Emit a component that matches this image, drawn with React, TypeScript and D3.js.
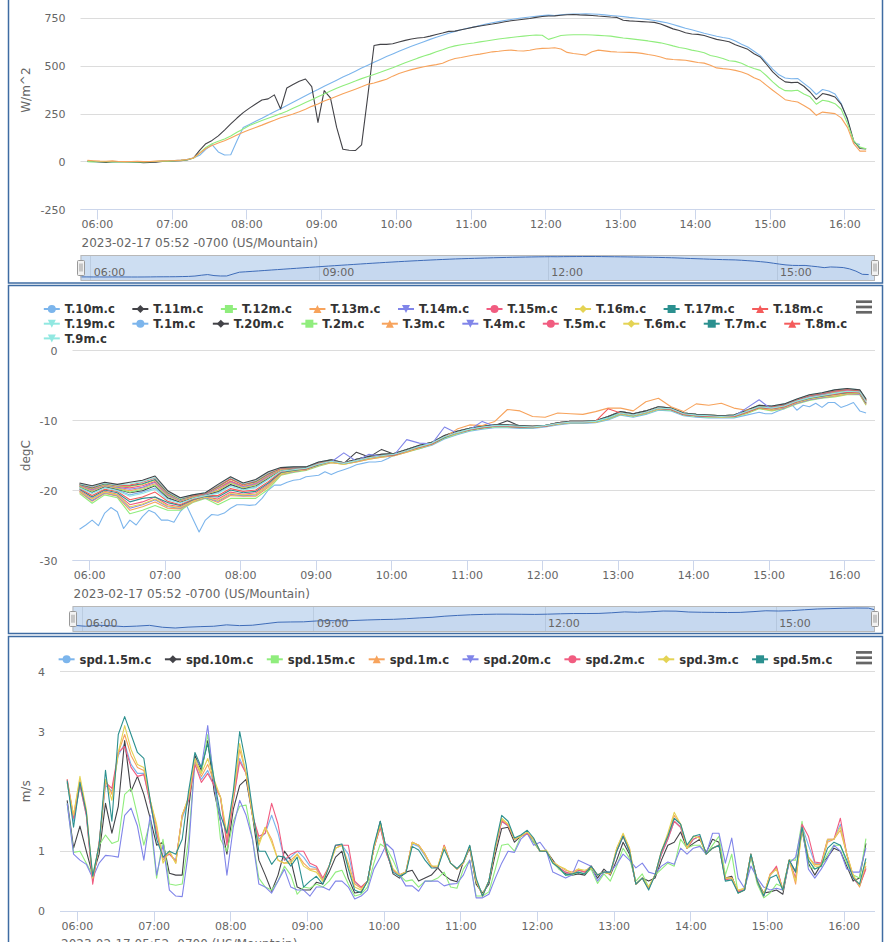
import React, { useMemo } from 'react';
import * as d3 from 'd3';

const FONT = '"DejaVu Sans", Verdana, sans-serif';
const PALETTE = ['#7cb5ec', '#434348', '#90ed7d', '#f7a35c', '#8085e9', '#f15c80', '#e4d354', '#2b908f', '#f45b5b', '#91e8e1'];
const SYMBOLS = ['circle', 'diamond', 'square', 'triangle', 'triangle-down'];
const DATE_LABEL = '2023-02-17 05:52 -0700 (US/Mountain)';

const at = (hm: string) => {
  const [h, m] = hm.split(':').map(Number);
  return new Date(2023, 1, 17, h, m, 0);
};
const VIEW_START = new Date(2023, 1, 17, 5, 46, 24);
const VIEW_END = new Date(2023, 1, 17, 16, 24, 6);
const DATA_START = at('05:52');
const DATA_END = at('16:17');

const times5 = d3.range(126).map((k) => d3.timeMinute.offset(DATA_START, 5 * k));
const times10 = [...d3.range(63).map((k) => d3.timeMinute.offset(DATA_START, 10 * k)), DATA_END];

// ---------------- Panel 1: radiation (W/m^2), 5-minute values ----------------
const radNames = ['rad.a', 'rad.b', 'rad.c', 'rad.d'];
const radBlue = [
  2, 1, 0, 0, -2, 1, 0, -1, -2, -2, -1, 1,
  5, 6, 7, 9, 14, 20, 34, 65, 90, 52, 36, 37,
  110, 180, 195, 212, 228, 245, 262, 278, 295, 312, 328, 345,
  362, 378, 395, 411, 427, 443, 458, 474, 490, 505, 520, 535,
  550, 564, 578, 591, 604, 616, 628, 640, 651, 662, 672, 682,
  690, 698, 705, 712, 720, 727, 733, 739, 744, 749, 753, 757,
  761, 764, 767, 765, 769, 771, 772, 773, 774, 773, 771, 768,
  765, 762, 759, 755, 752, 748, 744, 739, 733, 727, 718, 708,
  698, 690, 681, 672, 664, 656, 650, 645, 632, 615, 600, 578,
  555, 520, 485, 455, 438, 434, 436, 410, 385, 352, 378, 370,
  355, 305, 220, 100, 90, null,
];
const radDark = [
  4, 2, 0, -3, 1, 2, 1, -1, -2, -4, -3, -2,
  2, 3, 5, 6, 10, 20, 60, 95, 112, 136, 166, 198,
  229, 257, 281, 302, 323, 329, 350, 276, 386, 404, 421, 433,
  393, 206, 372, 334, 180, 66, 61, 59, 89, 345, 608, 614,
  614, 617, 626, 635, 642, 647, 650, 657, 666, 673, 682, 683,
  690, 697, 704, 710, 715, 720, 726, 732, 737, 741, 745, 749,
  755, 760, 762, 763, 766, 769, 770, 768, 767, 765, 762, 760,
  757, 755, 740, 737, 735, 733, 731, 729, 720, 708, 695, 686,
  675, 668, 666, 660, 650, 640, 634, 628, 612, 600, 588, 565,
  548, 510, 470, 440, 418, 414, 416, 395, 365, 327, 357, 350,
  339, 300, 225, 110, 70, 68,
];
const radGreen = [
  1, 0, 2, 1, 0, -1, 1, 0, -1, 0, 1, 2,
  3, 4, 6, 8, 11, 19, 45, 75, 95, 108, 120, 135,
  155, 172, 190, 203, 216, 228, 240, 252, 265, 280, 295, 310,
  325, 340, 355, 370, 385, 398, 410, 422, 435, 446, 457, 468,
  480, 492, 505, 518, 530, 542, 553, 563, 575, 586, 598, 606,
  612, 617, 621, 627, 632, 637, 642, 646, 650, 654, 657, 660,
  663, 662, 640, 650, 660, 663, 664, 664, 664, 663, 661, 659,
  657, 652, 647, 644, 640, 636, 632, 627, 622, 615, 606, 598,
  592, 584, 578, 570, 556, 549, 540, 528, 525, 515, 500, 488,
  478, 450, 418, 390, 372, 371, 374, 355, 340, 301, 322, 316,
  304, 275, 200, 110, 77, 68,
];
const radOrange = [
  8, 6, 4, 3, 5, 2, 1, 2, 3, 1, 2, 4,
  5, 6, 7, 9, 12, 20, 45, 70, 85, 98, 110, 125,
  140, 155, 168, 180, 192, 205, 217, 230, 240, 250, 262, 275,
  290, 302, 318, 330, 343, 356, 368, 380, 392, 405, 412, 422,
  432, 448, 462, 472, 482, 490, 497, 503, 508, 515, 530, 540,
  545, 552, 558, 563, 569, 575, 578, 582, 584, 581, 579, 583,
  590, 593, 594, 596, 590, 572, 566, 562, 558, 575, 584, 580,
  576, 574, 573, 572, 571, 567, 561, 556, 548, 538, 535, 533,
  531, 525, 519, 516, 505, 491, 487, 484, 478, 470, 458, 440,
  426, 400, 374, 350, 325, 318, 313, 295, 275, 243, 260, 256,
  252, 230, 180, 95, 56, 56,
];
const radTicks = [-250, 0, 250, 500, 750];

// ---------------- Panel 2: temperatures (degC), 10-minute values ----------------
const tempNames = ['T.10m.c', 'T.11m.c', 'T.12m.c', 'T.13m.c', 'T.14m.c', 'T.15m.c', 'T.16m.c', 'T.17m.c', 'T.18m.c', 'T.19m.c',
  'T.1m.c', 'T.20m.c', 'T.2m.c', 'T.3m.c', 'T.4m.c', 'T.5m.c', 'T.6m.c', 'T.7m.c', 'T.8m.c', 'T.9m.c'];

const t1Times = ['05:52', '05:57', '06:02', '06:07', '06:12', '06:17', '06:22', '06:27', '06:32', '06:37', '06:42', '06:47',
  '06:52', '06:57', '07:02', '07:07', '07:12', '07:17', '07:22', '07:27', '07:32', '07:37', '07:42', '07:47',
  '07:52', '07:57', '08:02', '08:07', '08:12', '08:17', '08:22', '08:27', '08:32', '08:37', '08:42', '08:47',
  '08:52', '08:57', '09:02', '09:07', '09:12', '09:17', '09:22', '09:27', '09:32', '09:37', '09:42', '09:47',
  '09:52', '09:57', '10:02', '10:07', '10:12', '10:22', '10:32', '10:42', '10:52', '11:02', '11:12', '11:22',
  '11:32', '11:42', '11:52', '12:02', '12:12', '12:22', '12:32', '12:42', '12:52', '13:02', '13:12', '13:22',
  '13:32', '13:42', '13:52', '14:02', '14:12', '14:22', '14:32', '14:42', '14:52', '14:57', '15:02', '15:07',
  '15:12', '15:17', '15:22', '15:27', '15:32', '15:37', '15:42', '15:47', '15:52', '15:57', '16:02', '16:07',
  '16:12', '16:17'];
const t1Values = [-25.5, -24.9, -24.2, -25.0, -23.2, -22.4, -23.0, -25.4, -24.2, -24.9, -23.7, -22.8,
  -23.2, -24.2, -24.2, -24.5, -23.0, -22.1, -24.0, -25.9, -24.2, -23.4, -23.5, -23.2,
  -22.5, -22.0, -22.0, -22.1, -22.0, -21.1, -19.9, -19.2, -19.2, -18.8, -18.5, -18.4,
  -18.0, -17.9, -17.8, -17.3, -17.7, -17.3, -17.0, -16.7, -16.3, -16.1, -15.9, -15.9,
  -15.8, -15.4, -14.9, -14.6, -14.4, -14.0, -13.5, -12.6, -12.0, -11.5, -11.2, -11.0,
  -11.0, -11.1, -11.1, -10.9, -10.6, -10.4, -10.4, -10.3, -9.9, -9.2, -9.5, -9.1,
  -8.5, -8.6, -9.3, -9.5, -9.6, -9.6, -9.6, -9.2, -8.8, -9.0, -9.0, -8.6,
  -8.3, -7.5, -8.5, -7.8, -8.0, -7.5, -8.1, -7.4, -7.4, -8.1, -7.8, -7.4,
  -8.6, -8.9];

const t2 = [-20.4, -21.8, -20.6, -21.0, -23.3, -22.8, -22.1, -22.8, -22.8, -21.7, -21.1, -22.0, -21.1, -21.1, -21.1, -19.8,
  -17.8, -17.4, -17.1, -16.5, -16.0, -16.2, -15.9, -15.5, -15.2, -15.0, -14.5, -14.0, -13.4, -12.5, -11.9, -11.4,
  -11.1, -10.9, -10.9, -11.0, -11.0, -10.8, -10.5, -10.3, -10.3, -10.2, -9.8, -9.1, -9.4, -9.0, -8.4, -8.5,
  -9.2, -9.4, -9.5, -9.5, -9.5, -9.0, -8.3, -8.6, -8.3, -7.6, -7.1, -6.8, -6.6, -6.3, -6.3, -7.8];
const t3 = [-20.2, -21.5, -20.4, -20.8, -22.8, -22.3, -21.6, -22.5, -22.6, -21.6, -21.0, -21.7, -20.7, -20.8, -20.8, -19.5,
  -17.7, -17.3, -17.0, -16.4, -16.0, -16.2, -15.9, -15.5, -15.2, -15.0, -14.5, -13.9, -13.4, -12.4, -11.2, -10.6,
  -10.7, -10.1, -8.4, -8.6, -9.4, -9.5, -8.9, -9.0, -9.1, -8.7, -8.2, -8.2, -8.6, -7.3, -6.8, -8.0,
  -8.7, -7.6, -7.8, -7.5, -8.2, -8.5, -8.2, -8.5, -8.2, -7.5, -7.0, -6.7, -6.5, -6.2, -6.2, -7.7];
const t4 = [-20.1, -21.4, -20.3, -20.7, -22.5, -22.0, -21.3, -22.3, -22.5, -21.5, -21.0, -21.5, -20.5, -20.7, -20.6, -19.3,
  -17.6, -17.3, -17.0, -16.4, -15.9, -14.6, -15.8, -14.8, -15.1, -14.9, -12.7, -13.2, -13.3, -10.9, -11.8, -11.3,
  -10.1, -10.8, -10.8, -10.9, -11.0, -10.8, -10.5, -10.3, -10.3, -10.2, -9.7, -9.0, -9.3, -8.9, -8.3, -8.4,
  -9.1, -9.3, -9.4, -9.5, -9.4, -8.2, -7.0, -8.4, -8.2, -7.5, -7.0, -6.7, -6.4, -6.1, -6.2, -7.6];
const t5 = [-20.0, -21.1, -20.1, -20.5, -22.0, -21.6, -20.9, -22.0, -22.3, -21.4, -20.9, -21.2, -20.2, -20.5, -20.3, -19.1,
  -17.5, -17.2, -17.0, -16.3, -15.9, -16.1, -15.8, -15.4, -15.1, -14.9, -14.4, -13.9, -13.3, -12.4, -11.8, -11.3,
  -11.0, -10.8, -10.8, -10.9, -10.9, -10.8, -10.4, -10.2, -10.2, -10.1, -9.7, -9.0, -9.3, -8.9, -8.3, -8.4,
  -9.1, -9.3, -9.4, -9.4, -9.4, -8.9, -8.2, -8.4, -8.1, -7.4, -6.9, -6.6, -6.3, -6.0, -6.1, -7.5];
const t6 = [-20.1, -21.2, -20.2, -20.6, -22.3, -21.9, -21.2, -22.2, -22.4, -21.5, -20.9, -21.4, -20.4, -20.6, -20.5, -19.3,
  -17.6, -17.2, -17.0, -16.4, -15.9, -16.2, -15.8, -15.4, -15.1, -14.9, -14.4, -13.9, -13.3, -12.4, -11.8, -11.3,
  -11.0, -10.8, -10.8, -10.9, -11.0, -10.8, -10.5, -10.3, -10.3, -10.2, -9.7, -9.0, -9.3, -8.9, -8.3, -8.4,
  -9.1, -9.3, -9.4, -9.5, -9.4, -8.9, -8.2, -8.4, -8.1, -7.4, -6.9, -6.6, -6.4, -6.1, -6.1, -7.6];
const t7 = [-19.8, -20.9, -19.9, -20.3, -21.6, -21.1, -20.9, -21.7, -22.1, -21.3, -20.8, -20.9, -19.9, -20.3, -20.1, -18.9,
  -17.4, -17.1, -16.9, -16.3, -15.8, -16.1, -15.7, -15.3, -15.0, -14.9, -14.3, -13.8, -13.3, -12.4, -11.7, -11.3,
  -11.0, -10.8, -10.8, -10.9, -10.9, -10.8, -10.4, -10.2, -10.2, -10.1, -9.6, -8.9, -9.2, -8.8, -8.2, -8.4,
  -9.1, -9.3, -9.4, -9.4, -9.4, -8.8, -8.1, -8.3, -8.0, -7.3, -6.8, -6.5, -6.2, -6.0, -6.0, -7.5];
const t8 = [-19.7, -20.7, -19.8, -20.1, -21.3, -20.9, -20.2, -21.5, -22.0, -21.2, -20.7, -20.7, -19.7, -20.1, -19.9, -18.7,
  -17.3, -17.0, -16.9, -16.2, -15.8, -16.1, -15.7, -15.3, -15.0, -14.9, -14.3, -13.8, -13.3, -12.3, -11.7, -11.3,
  -11.0, -10.8, -10.8, -10.9, -10.9, -10.8, -10.4, -10.2, -10.2, -10.1, -8.3, -8.9, -9.2, -8.8, -8.2, -8.4,
  -9.1, -9.3, -9.4, -9.4, -9.4, -8.8, -8.1, -8.3, -8.0, -7.3, -6.7, -6.4, -6.2, -5.9, -6.0, -7.4];
const t9 = [-19.6, -20.4, -19.6, -20.0, -20.8, -20.4, -19.8, -21.3, -21.8, -21.1, -20.7, -20.4, -19.4, -19.9, -19.6, -18.4,
  -17.2, -17.0, -16.8, -16.2, -15.8, -16.1, -15.7, -15.3, -15.0, -14.8, -14.3, -13.7, -13.2, -12.3, -11.7, -11.2,
  -10.9, -10.7, -10.7, -10.8, -10.9, -10.7, -10.4, -10.2, -10.2, -10.1, -9.6, -8.9, -9.2, -8.8, -8.2, -8.3,
  -9.0, -9.2, -9.3, -9.4, -9.3, -8.7, -8.0, -8.2, -7.9, -7.2, -6.7, -6.4, -6.1, -5.8, -5.9, -7.3];
const t10 = [-19.5, -20.3, -19.5, -19.9, -20.6, -20.2, -19.6, -21.1, -21.7, -21.0, -20.6, -20.3, -19.2, -19.8, -19.5, -18.3,
  -17.1, -16.9, -16.8, -16.1, -15.8, -16.1, -15.7, -15.3, -15.0, -14.8, -14.3, -13.7, -13.2, -12.3, -11.7, -11.2,
  -10.9, -10.7, -10.7, -10.8, -10.9, -10.7, -10.4, -10.2, -10.2, -10.1, -9.6, -8.9, -9.2, -8.8, -8.2, -8.3,
  -9.0, -9.2, -9.3, -9.4, -9.3, -8.7, -8.0, -8.2, -7.9, -7.2, -6.6, -6.3, -6.0, -5.8, -5.9, -7.3];
const t11 = [-19.4, -20.2, -19.4, -19.8, -20.3, -20.0, -19.3, -21.0, -21.6, -21.0, -20.6, -20.1, -19.1, -19.7, -19.3, -18.2,
  -17.1, -16.9, -16.8, -16.1, -15.7, -16.1, -14.5, -15.2, -14.1, -14.8, -14.2, -13.7, -13.2, -12.2, -11.6, -11.2,
  -10.9, -10.7, -10.0, -10.8, -10.9, -10.7, -10.4, -10.2, -10.2, -10.1, -9.5, -8.8, -9.1, -8.7, -8.1, -8.3,
  -9.0, -9.2, -9.3, -9.4, -9.3, -8.7, -8.0, -8.1, -7.8, -7.1, -6.6, -6.3, -5.9, -5.7, -5.8, -7.2];
const t12 = [-19.4, -20.1, -19.3, -19.7, -20.2, -19.8, -19.2, -20.8, -21.5, -20.9, -20.5, -20.0, -18.9, -19.6, -19.2, -18.1,
  -17.0, -16.8, -16.8, -16.1, -15.7, -16.1, -15.6, -15.2, -14.9, -14.8, -14.2, -13.7, -13.2, -12.2, -11.6, -11.2,
  -10.9, -10.7, -10.7, -10.8, -10.9, -10.7, -10.4, -10.2, -10.2, -10.1, -9.5, -8.8, -9.1, -8.7, -8.1, -8.3,
  -9.0, -9.2, -9.3, -9.4, -9.3, -8.7, -8.0, -8.1, -7.8, -7.1, -6.5, -6.2, -5.9, -5.7, -5.8, -7.2];
const t13 = [-19.3, -20.0, -19.3, -19.6, -20.0, -19.6, -19.0, -20.7, -21.5, -20.9, -20.5, -19.9, -18.8, -19.5, -19.1, -18.0,
  -17.0, -16.8, -16.7, -16.1, -15.7, -16.1, -15.6, -15.2, -14.9, -14.8, -14.2, -13.6, -13.2, -12.2, -11.6, -11.2,
  -10.9, -10.7, -10.7, -10.8, -10.9, -10.7, -10.4, -10.2, -10.2, -10.1, -9.5, -8.8, -9.1, -8.7, -8.1, -8.3,
  -9.0, -9.2, -9.3, -9.4, -9.3, -8.6, -7.9, -8.1, -7.8, -7.1, -6.5, -6.2, -5.9, -5.6, -5.8, -7.1];
const t14 = [-19.2, -19.9, -19.2, -19.5, -19.8, -19.5, -18.8, -20.6, -21.4, -20.8, -20.5, -19.7, -18.7, -19.4, -19.0, -17.9,
  -16.9, -16.8, -16.7, -16.0, -15.7, -16.0, -15.6, -15.2, -14.9, -14.8, -14.2, -13.6, -13.2, -12.2, -11.6, -11.2,
  -10.9, -10.7, -10.7, -10.8, -10.8, -10.7, -10.3, -10.1, -10.1, -10.0, -9.5, -8.8, -9.1, -8.7, -8.1, -8.3,
  -9.0, -9.2, -9.3, -9.3, -9.3, -8.6, -7.9, -8.1, -7.8, -7.1, -6.5, -6.2, -5.8, -5.6, -5.8, -7.1];
const t15 = [-19.2, -19.8, -19.1, -19.4, -19.6, -19.3, -18.7, -20.5, -21.3, -20.8, -20.4, -19.6, -18.6, -19.3, -18.9, -17.8,
  -16.9, -16.7, -16.7, -16.0, -15.7, -16.0, -15.6, -15.2, -14.9, -14.8, -14.2, -13.6, -13.2, -12.2, -11.6, -11.2,
  -10.9, -10.7, -10.7, -10.8, -10.8, -10.7, -10.3, -10.1, -10.1, -10.0, -9.5, -8.8, -9.1, -8.7, -8.1, -8.3,
  -9.0, -9.2, -9.3, -9.3, -9.3, -8.6, -7.9, -8.0, -7.7, -7.0, -6.4, -6.1, -5.8, -5.6, -5.7, -7.1];
const t16 = [-19.1, -19.7, -19.1, -19.4, -19.4, -19.1, -18.5, -20.4, -21.3, -20.8, -20.4, -19.5, -18.4, -19.2, -18.8, -17.7,
  -16.9, -16.7, -16.7, -16.0, -15.7, -16.0, -15.6, -15.2, -14.9, -14.7, -14.2, -13.6, -13.1, -12.2, -11.6, -11.2,
  -10.9, -10.7, -10.7, -10.8, -10.8, -10.7, -10.3, -10.1, -10.1, -10.0, -9.5, -8.8, -9.1, -8.7, -8.1, -8.2,
  -8.9, -9.1, -9.2, -9.3, -9.2, -8.6, -7.9, -8.0, -7.7, -7.0, -6.4, -6.1, -5.7, -5.5, -5.7, -7.0];
const t17 = [-19.1, -19.6, -19.0, -19.3, -19.3, -19.0, -18.4, -20.3, -21.2, -20.7, -20.4, -19.4, -18.3, -19.1, -18.7, -17.6,
  -16.8, -16.7, -16.7, -16.0, -15.6, -16.0, -15.5, -15.1, -14.8, -14.7, -14.1, -13.6, -13.1, -12.1, -11.5, -11.1,
  -10.8, -10.6, -10.6, -10.7, -10.8, -10.7, -10.3, -10.1, -10.1, -10.0, -9.4, -8.7, -9.0, -8.6, -8.0, -8.2,
  -8.9, -9.1, -9.2, -9.3, -9.2, -8.6, -7.9, -8.0, -7.7, -7.0, -6.4, -6.1, -5.7, -5.5, -5.7, -7.0];
const t18 = [-19.0, -19.5, -18.9, -19.3, -19.2, -18.8, -18.2, -20.2, -21.1, -20.7, -20.4, -19.3, -18.3, -19.1, -18.6, -17.5,
  -16.8, -16.7, -16.6, -16.0, -15.6, -16.0, -15.5, -15.1, -14.8, -14.7, -14.1, -13.5, -13.1, -12.1, -11.5, -11.1,
  -10.8, -10.6, -10.6, -10.7, -10.8, -10.7, -10.3, -10.1, -10.1, -10.0, -9.4, -8.7, -9.0, -8.6, -8.0, -8.2,
  -8.9, -9.1, -9.2, -9.3, -9.2, -8.5, -7.8, -8.0, -7.7, -7.0, -6.4, -6.1, -5.7, -5.5, -5.7, -7.0];
const t19 = [-19.0, -19.4, -18.9, -19.2, -19.0, -18.7, -18.1, -20.1, -21.1, -20.6, -20.3, -19.2, -18.1, -19.0, -18.5, -17.4,
  -16.7, -16.6, -16.6, -15.9, -15.6, -16.0, -15.5, -15.1, -14.8, -14.7, -14.1, -13.5, -13.1, -12.1, -11.5, -11.1,
  -10.8, -10.6, -10.6, -10.7, -10.8, -10.7, -10.3, -10.1, -10.1, -10.0, -9.4, -8.7, -9.0, -8.6, -8.0, -8.2,
  -8.9, -9.1, -9.2, -9.3, -9.2, -8.5, -7.8, -7.9, -7.6, -6.9, -6.3, -6.0, -5.6, -5.4, -5.6, -6.9];
const t20 = [-18.9, -19.3, -18.8, -19.1, -18.8, -18.5, -17.9, -20.0, -21.0, -20.6, -20.3, -19.1, -18.0, -18.9, -18.4, -17.3,
  -16.7, -16.6, -16.6, -15.9, -15.6, -16.0, -15.5, -15.1, -14.8, -14.7, -14.1, -13.5, -13.1, -12.1, -11.5, -11.1,
  -10.8, -10.6, -10.6, -10.7, -10.8, -10.7, -10.3, -10.1, -10.1, -10.0, -9.4, -8.7, -9.0, -8.6, -8.0, -8.2,
  -8.9, -9.1, -9.2, -9.3, -9.2, -8.5, -7.8, -7.9, -7.6, -6.9, -6.3, -6.0, -5.6, -5.4, -5.6, -6.9];
const tempTicks = [-30, -20, -10, 0];

// ---------------- Panel 3: wind speed (m/s), 5-minute values ----------------
const windNames = ['spd.1.5m.c', 'spd.10m.c', 'spd.15m.c', 'spd.1m.c', 'spd.20m.c', 'spd.2m.c', 'spd.3m.c', 'spd.5m.c'];
const spd1p5 = [
  2.15, 1.5, 2.1, 1.6, 0.5, 1.1, 2.1, 2.0, 2.6, 2.8, 2.45, 2.3,
  2.3, 1.8, 1.3, 0.9, 0.95, 0.85, 1.55, 1.85, 2.45, 2.2, 2.35, 2.1,
  1.9, 1.15, 1.85, 2.55, 2.3, 1.6, 1.2, 1.3, 1.6, 1.3, 0.85, 0.9,
  1.0, 0.9, 0.75, 0.72, 0.52, 0.75, 1.1, 1.1, 0.95, 0.48, 0.4, 0.5,
  1.05, 1.4, 0.95, 0.68, 0.6, 0.65, 1.12, 1.08, 0.92, 0.75, 0.72, 1.08,
  0.8, 0.7, 0.8, 1.08, 0.52, 0.26, 0.5, 1.05, 1.5, 1.42, 1.2, 1.25,
  1.3, 1.2, 1.0, 1.0, 0.82, 0.72, 0.65, 0.62, 0.68, 0.65, 0.75, 0.6,
  0.65, 0.62, 1.0, 1.25, 1.0, 0.45, 0.55, 0.38, 0.6, 0.95, 1.2, 1.5,
  1.4, 1.05, 1.2, 1.25, 0.95, 1.05, 1.1, 0.52, 0.55, 0.32, 0.36, 0.95,
  0.5, 0.25, 0.6, 0.72, 0.35, 0.85, 0.52, 1.42, 1.1, 0.8, 0.78, 1.18,
  1.2, 1.45, 0.95, 0.55, 0.42, 0.72,
];
const spd10 = [
  1.85, 1.05, 1.42, 1.0, 0.6, 0.95, 1.8, 1.3, 1.75, 2.85, 2.0, 2.25,
  1.95, 1.55, 1.1, 1.15, 0.63, 0.6, 0.6, 1.7, 2.6, 2.35, 2.85, 2.0,
  1.5, 0.95, 1.7, 2.1, 2.2, 1.6, 0.85, 0.6, 0.33, 0.6, 1.0, 0.85,
  0.4, 0.35, 0.35, 0.48, 0.45, 0.65, 0.9, 1.0, 0.55, 0.3, 0.32, 0.5,
  1.05, 1.5, 1.0, 0.62, 0.55, 0.65, 0.68, 0.5, 0.55, 0.6, 0.72, 0.6,
  0.52, 0.49, 0.82, 1.05, 0.45, 0.3, 0.45, 0.95, 1.38, 1.4, 1.15, 1.25,
  1.3, 1.15, 1.0, 1.0, 0.85, 0.7, 0.62, 0.6, 0.62, 0.6, 0.72, 0.55,
  0.7, 0.6, 0.85, 1.15, 0.95, 0.45, 0.55, 0.5, 0.55, 0.85, 1.1, 1.15,
  1.32, 1.05, 1.13, 1.2, 0.98, 1.2, 1.15, 0.55, 0.58, 0.3, 0.35, 0.93,
  0.5, 0.3, 0.32, 0.35, 0.28, 0.85, 0.65, 1.35, 0.8, 0.6, 0.78, 0.9,
  1.05, 1.0, 0.75, 0.5, 0.55, 1.13,
];
const spd15 = [
  1.8, 0.98, 1.0, 0.8, 0.6, 1.1, 1.27, 1.13, 1.17, 1.95, 2.05, 1.6,
  1.1, 1.5, 0.55, 1.2, 0.45, 0.43, 0.45, 1.2, 2.5, 2.3, 2.95, 2.2,
  1.2, 1.0, 1.5, 1.75, 1.77, 1.2, 0.55, 0.4, 0.35, 0.5, 0.75, 0.6,
  0.28, 0.4, 0.38, 0.45, 0.4, 0.5, 0.65, 0.68, 0.45, 0.25, 0.28, 0.4,
  0.8, 1.12, 1.05, 0.85, 0.6, 0.5, 0.52, 0.4, 0.5, 0.5, 0.55, 0.65,
  0.4, 0.38, 0.7, 0.85, 0.25, 0.25, 0.32, 0.7, 1.1, 1.12, 1.0, 1.25,
  1.3, 1.15, 1.0, 1.0, 0.8, 0.7, 0.6, 0.6, 0.65, 0.62, 0.7, 0.46,
  0.62, 0.5, 0.75, 1.05, 0.88, 0.5, 0.62, 0.4, 0.6, 0.7, 0.8, 0.75,
  1.2, 1.05, 1.1, 1.1, 0.95, 1.1, 1.25, 0.6, 0.95, 0.3, 0.35, 0.9,
  0.45, 0.22, 0.3, 0.45, 0.4, 0.85, 0.85, 1.5, 0.75, 0.7, 0.75, 0.95,
  1.1, 1.1, 0.8, 0.6, 0.55, 1.21,
];
const spd1 = [
  2.2, 1.6, 2.2, 1.65, 0.5, 1.1, 2.2, 1.95, 2.65, 2.95, 2.6, 2.4,
  2.35, 1.85, 1.4, 0.85, 1.0, 0.8, 1.6, 1.9, 2.5, 2.25, 2.45, 2.15,
  1.9, 1.2, 1.9, 2.7, 2.3, 1.6, 1.15, 1.4, 1.2, 0.85, 0.8, 0.85,
  0.95, 0.8, 0.7, 0.7, 0.5, 0.75, 1.05, 1.1, 0.8, 0.45, 0.38, 0.5,
  1.05, 1.42, 0.98, 0.7, 0.6, 0.65, 1.15, 1.1, 0.95, 0.75, 0.72, 1.1,
  0.8, 0.7, 0.8, 1.08, 0.5, 0.26, 0.5, 1.05, 1.52, 1.45, 1.2, 1.25,
  1.3, 1.2, 1.0, 1.0, 0.82, 0.75, 0.68, 0.65, 0.7, 0.65, 0.75, 0.6,
  0.65, 0.62, 1.05, 1.28, 1.05, 0.45, 0.55, 0.38, 0.6, 1.0, 1.25, 1.6,
  1.45, 1.05, 1.25, 1.22, 0.95, 1.05, 1.1, 0.55, 0.55, 0.33, 0.38, 0.95,
  0.5, 0.27, 0.62, 0.72, 0.35, 0.85, 0.45, 1.4, 0.9, 0.78, 0.78, 1.15,
  1.2, 1.35, 0.95, 0.6, 0.4, 0.75,
];
const spd20 = [
  1.8, 0.95, 0.85, 0.78, 0.55, 0.8, 0.93, 0.92, 0.9, 1.6, 1.72, 1.42,
  0.85, 1.6, 0.6, 1.1, 0.35, 0.25, 0.24, 1.0, 2.55, 2.4, 3.1, 2.1,
  1.5, 0.6, 1.4, 1.85, 1.6, 1.2, 0.45, 0.4, 0.3, 0.5, 0.7, 0.4,
  0.35, 0.35, 0.25, 0.4, 0.4, 0.35, 0.5, 0.5, 0.4, 0.2, 0.25, 0.35,
  0.7, 0.9, 1.12, 1.02, 0.6, 0.42, 0.42, 0.33, 0.5, 0.5, 0.5, 0.42,
  0.45, 0.46, 0.6, 0.85, 0.22, 0.22, 0.28, 0.55, 0.8, 1.0, 0.98, 1.2,
  1.3, 1.1, 1.15, 1.0, 0.65, 0.6, 0.55, 0.6, 0.85, 0.8, 0.75, 0.5,
  0.65, 0.65, 0.78, 0.95, 0.85, 0.72, 0.8, 0.65, 0.62, 0.75, 0.82, 0.78,
  1.05, 0.95, 1.05, 1.08, 0.95, 1.3, 1.3, 0.8, 1.22, 0.55, 0.38, 0.75,
  0.55, 0.4, 0.35, 0.38, 0.35, 0.8, 0.9, 1.42, 0.7, 0.55, 0.7, 0.88,
  1.1, 1.0, 0.7, 0.65, 0.65, 1.05,
];
const spd2 = [
  2.2, 1.55, 2.1, 1.6, 0.45, 1.15, 2.15, 2.05, 2.65, 2.75, 2.4, 2.25,
  2.28, 1.8, 1.3, 0.9, 0.95, 0.83, 1.6, 1.85, 2.45, 2.15, 2.3, 2.1,
  1.9, 1.1, 1.85, 2.5, 2.3, 1.6, 1.25, 1.3, 1.8, 1.45, 0.85, 0.95,
  1.0, 1.0, 0.8, 0.75, 0.55, 0.75, 1.1, 1.1, 1.1, 0.5, 0.4, 0.5,
  1.05, 1.4, 0.95, 0.68, 0.6, 0.65, 1.15, 1.1, 0.95, 0.75, 0.72, 1.1,
  0.8, 0.7, 0.8, 1.08, 0.52, 0.25, 0.5, 1.05, 1.5, 1.43, 1.2, 1.25,
  1.3, 1.2, 1.0, 1.0, 0.82, 0.72, 0.65, 0.62, 0.68, 0.65, 0.75, 0.6,
  0.65, 0.62, 1.0, 1.25, 1.0, 0.45, 0.55, 0.38, 0.6, 0.95, 1.2, 1.5,
  1.4, 1.05, 1.2, 1.25, 0.95, 1.05, 1.1, 0.52, 0.55, 0.32, 0.35, 0.95,
  0.5, 0.25, 0.6, 0.75, 0.35, 0.85, 0.55, 1.45, 1.25, 0.82, 0.8, 1.2,
  1.2, 1.55, 0.95, 0.55, 0.42, 0.7,
];
const spd3 = [
  2.15, 1.6, 2.25, 1.7, 0.55, 1.1, 2.2, 1.85, 2.65, 3.1, 2.7, 2.45,
  2.4, 1.85, 1.45, 0.8, 1.0, 0.8, 1.6, 1.9, 2.55, 2.3, 2.55, 2.2,
  1.9, 1.3, 1.9, 2.8, 2.3, 1.6, 1.1, 1.4, 1.15, 0.85, 0.8, 0.8,
  0.95, 0.75, 0.68, 0.65, 0.5, 0.75, 1.05, 1.1, 0.75, 0.4, 0.35, 0.5,
  1.05, 1.45, 1.0, 0.7, 0.6, 0.65, 1.15, 1.1, 0.95, 0.75, 0.75, 1.08,
  0.8, 0.7, 0.8, 1.08, 0.5, 0.27, 0.5, 1.05, 1.55, 1.45, 1.2, 1.25,
  1.32, 1.2, 1.0, 1.02, 0.82, 0.75, 0.7, 0.62, 0.7, 0.68, 0.72, 0.6,
  0.65, 0.62, 1.05, 1.3, 1.05, 0.45, 0.55, 0.4, 0.6, 1.0, 1.3, 1.65,
  1.45, 1.05, 1.25, 1.22, 0.95, 1.05, 1.1, 0.55, 0.55, 0.35, 0.38, 0.95,
  0.5, 0.28, 0.6, 0.7, 0.35, 0.85, 0.5, 1.35, 0.9, 0.75, 0.75, 1.2,
  1.2, 1.4, 0.95, 0.6, 0.42, 0.82,
];
const spd5 = [
  2.18, 1.4, 2.15, 1.65, 0.58, 1.1, 2.35, 1.5, 2.95, 3.25, 2.95, 2.65,
  2.55, 1.85, 1.2, 0.9, 1.0, 0.95, 1.2, 2.0, 2.65, 2.4, 2.8, 2.2,
  1.6, 1.3, 2.0, 3.0, 2.45, 1.7, 1.0, 1.0, 0.78, 0.92, 0.9, 0.75,
  0.9, 0.4, 0.5, 0.58, 0.45, 0.75, 1.1, 1.12, 0.7, 0.35, 0.3, 0.5,
  1.1, 1.5, 1.0, 0.65, 0.58, 0.63, 1.08, 1.02, 0.85, 0.72, 0.72, 1.03,
  0.8, 0.71, 0.82, 1.1, 0.55, 0.25, 0.5, 1.1, 1.6, 1.5, 1.22, 1.27,
  1.35, 1.22, 1.0, 1.0, 0.8, 0.72, 0.6, 0.62, 0.65, 0.62, 0.75, 0.6,
  0.65, 0.65, 1.0, 1.25, 1.0, 0.45, 0.55, 0.35, 0.6, 1.0, 1.25, 1.55,
  1.45, 1.1, 1.25, 1.28, 0.95, 1.05, 1.1, 0.5, 0.52, 0.3, 0.35, 0.95,
  0.5, 0.25, 0.55, 0.6, 0.35, 0.85, 0.65, 1.4, 0.85, 0.7, 0.75, 1.05,
  1.15, 1.1, 0.85, 0.55, 0.45, 0.88,
];
const windTicks = [0, 1, 2, 3, 4];

// ---------------- helpers ----------------
type Pt = [Date, number | null];
type Series = { name: string; color: string; symbol: string; points: Pt[] };

const zip = (times: Date[], vals: (number | null)[]): Pt[] => vals.map((v, i) => [times[i], v]);

const radSeries: Series[] = [radBlue, radDark, radGreen, radOrange].map((vals, i) => ({
  name: radNames[i], color: PALETTE[i], symbol: SYMBOLS[i], points: zip(times5, vals),
}));

const tempArrays: Record<string, number[]> = {
  'T.2m.c': t2, 'T.3m.c': t3, 'T.4m.c': t4, 'T.5m.c': t5, 'T.6m.c': t6, 'T.7m.c': t7, 'T.8m.c': t8, 'T.9m.c': t9,
  'T.10m.c': t10, 'T.11m.c': t11, 'T.12m.c': t12, 'T.13m.c': t13, 'T.14m.c': t14, 'T.15m.c': t15, 'T.16m.c': t16,
  'T.17m.c': t17, 'T.18m.c': t18, 'T.19m.c': t19, 'T.20m.c': t20,
};
const tempSeries: Series[] = tempNames.map((name, i) => ({
  name, color: PALETTE[i % 10], symbol: SYMBOLS[i % 5],
  points: name === 'T.1m.c' ? t1Times.map((s, k) => [at(s), t1Values[k]] as Pt) : zip(times10, tempArrays[name]),
}));

const windArrays = [spd1p5, spd10, spd15, spd1, spd20, spd2, spd3, spd5];
const windSeries: Series[] = windNames.map((name, i) => ({
  name, color: PALETTE[i % 10], symbol: SYMBOLS[i % 5], points: zip(times5, windArrays[i]),
}));

const LEGEND_FONT_SIZE = 11.6;

function markerEl(symbol: string, cx: number, cy: number, color: string) {
  const r = 4;
  if (symbol === 'circle') return <circle cx={cx} cy={cy} r={r} fill={color} />;
  if (symbol === 'square') return <rect x={cx - r} y={cy - r} width={2 * r} height={2 * r} fill={color} />;
  let d = '';
  if (symbol === 'diamond') d = `M${cx},${cy - r}L${cx + r},${cy}L${cx},${cy + r}L${cx - r},${cy}Z`;
  if (symbol === 'triangle') d = `M${cx},${cy - r}L${cx + r},${cy + r}L${cx - r},${cy + r}Z`;
  if (symbol === 'triangle-down') d = `M${cx - r},${cy - r}L${cx + r},${cy - r}L${cx},${cy + r}Z`;
  return <path d={d} fill={color} />;
}

function layoutLegend(series: Series[], maxW: number, centerX: number, firstCy: number, rowH: number, dist: number) {
  const ctx = document.createElement('canvas').getContext('2d') as CanvasRenderingContext2D;
  ctx.font = `bold ${LEGEND_FONT_SIZE}px ${FONT}`;
  const widths = series.map((s) => 21 + ctx.measureText(s.name).width + dist);
  const rows: number[][] = [[]];
  let rowW = 0;
  widths.forEach((w, i) => {
    if (rowW + w > maxW && rows[rows.length - 1].length) {
      rows.push([]);
      rowW = 0;
    }
    rows[rows.length - 1].push(i);
    rowW += w;
  });
  const rowWidths = rows.map((r) => d3.sum(r, (i) => widths[i]) - dist);
  const legendW = d3.max(rowWidths) as number;
  const startX = centerX - legendW / 2;
  const items: { s: Series; x: number; cy: number }[] = [];
  rows.forEach((r, ri) => {
    let x = startX;
    r.forEach((i) => {
      items.push({ s: series[i], x, cy: firstCy + ri * rowH });
      x += widths[i];
    });
  });
  return items;
}

const crisp = (v: number) => Math.round(v - 0.5) + 0.5;

function Menu({ cy }: { cy: number }) {
  return (
    <g stroke="#666" strokeWidth={2.7}>
      {[-5.3, 0, 5.3].map((o) => <line key={o} x1={856} x2={872} y1={cy + o} y2={cy + o} />)}
    </g>
  );
}

function Navigator({ id, left, right, top, bottom, points }: { id: string; left: number; right: number; top: number; bottom: number; points: Pt[] }) {
  const xn = d3.scaleTime().domain([DATA_START, DATA_END]).range([left, right]);
  const vals = points.map((p) => p[1]).filter((v) => v != null) as number[];
  const yn = d3.scaleLinear().domain(d3.extent(vals) as [number, number]).range([bottom - 3, top + 1.5]);
  const area = d3.area<Pt>().defined((d) => d[1] != null).x((d) => xn(d[0])).y0(bottom).y1((d) => yn(d[1] as number));
  const line = d3.line<Pt>().defined((d) => d[1] != null).x((d) => xn(d[0])).y((d) => yn(d[1] as number));
  const ticks = xn.ticks(d3.timeHour.every(3) as d3.TimeInterval);
  const fmt = d3.timeFormat('%H:%M');
  const cy = (top + bottom) / 2;
  return (
    <g>
      <rect x={left} y={top} width={right - left} height={bottom - top} fill="#fff" />
      {ticks.map((t) => (
        <line key={+t} x1={crisp(xn(t))} x2={crisp(xn(t))} y1={top} y2={bottom} stroke="#e6e6e6" />
      ))}
      <path d={area(points) || ''} fill="rgba(51,92,173,0.05)" />
      <path d={line(points) || ''} fill="none" stroke="#335cad" strokeWidth={1} />
      <rect x={left} y={top} width={right - left} height={bottom - top} fill="rgba(88,145,212,0.3)" />
      {ticks.map((t) => (
        <text key={'l' + +t} x={xn(t) + 3} y={bottom - 4} fontSize={11} fill="#666">{fmt(t)}</text>
      ))}
      <rect x={left + 0.5} y={crisp(top)} width={right - left - 1} height={Math.round(bottom - top)} fill="none" stroke="#b8b8b8" strokeWidth={1} />
      {[left, right].map((hx) => {
        const cx = Math.round(hx);
        return (
          <g key={id + hx}>
            <rect x={cx - 3.5} y={Math.round(cy - 7.5) + 0.5} width={7} height={15} rx={1} fill="#f2f2f2" stroke="#999" />
            <line x1={cx - 1} x2={cx - 1} y1={cy - 4} y2={cy + 4} stroke="#999" />
            <line x1={cx + 1} x2={cx + 1} y1={cy - 4} y2={cy + 4} stroke="#999" />
          </g>
        );
      })}
    </g>
  );
}

type PanelProps = {
  id: string; left: number; right: number; top: number; bottom: number;
  yDomain: [number, number]; yTicks: number[]; yTitle: string; series: Series[];
};

function Plot({ id, left, right, top, bottom, yDomain, yTicks, yTitle, series }: PanelProps) {
  const x = d3.scaleTime().domain([VIEW_START, VIEW_END]).range([left, right]);
  const y = d3.scaleLinear().domain(yDomain).range([bottom, top]);
  const line = d3.line<Pt>().defined((d) => d[1] != null).x((d) => x(d[0])).y((d) => y(d[1] as number));
  const xt = x.ticks(d3.timeHour.every(1) as d3.TimeInterval);
  const fmt = d3.timeFormat('%H:%M');
  const axisY = crisp(bottom);
  return (
    <g>
      <defs>
        <clipPath id={'clip-' + id}>
          <rect x={left} y={top - 2} width={right - left} height={bottom - top + 4} />
        </clipPath>
      </defs>
      {yTicks.map((v) => (
        <g key={v}>
          <line x1={left} x2={right} y1={crisp(y(v))} y2={crisp(y(v))} stroke="#dcdcdc" strokeWidth={1} />
          <text x={left - 15} y={y(v) + 4} fontSize={11} fill="#666" textAnchor="end">{v}</text>
        </g>
      ))}
      <text transform={`translate(30,${(top + bottom) / 2}) rotate(-90)`} fontSize={12} fill="#666" textAnchor="middle">{yTitle}</text>
      <line x1={left} x2={right} y1={axisY} y2={axisY} stroke="#ccd6eb" />
      {xt.map((t) => (
        <g key={+t}>
          <line x1={crisp(x(t))} x2={crisp(x(t))} y1={axisY} y2={axisY + 10} stroke="#ccd6eb" />
          <text x={x(t)} y={bottom + 18.5} fontSize={11} fill="#666" textAnchor="middle">{fmt(t)}</text>
        </g>
      ))}
      <text x={left + 1} y={bottom + 37} fontSize={12} fill="#666">{DATE_LABEL}</text>
      <g clipPath={`url(#clip-${id})`}>
        {series.map((s) => (
          <path key={s.name} d={line(s.points) || ''} fill="none" stroke={s.color} strokeWidth={1.1} strokeLinejoin="round" />
        ))}
      </g>
    </g>
  );
}

function Legend({ items }: { items: { s: Series; x: number; cy: number }[] }) {
  return (
    <g>
      {items.map(({ s, x, cy }) => (
        <g key={s.name}>
          <line x1={x} x2={x + 16} y1={cy} y2={cy} stroke={s.color} strokeWidth={2} />
          {markerEl(s.symbol, x + 8, cy, s.color)}
          <text x={x + 21} y={cy + 4.2} fontSize={LEGEND_FONT_SIZE} fontWeight="bold" fill="#333">{s.name}</text>
        </g>
      ))}
    </g>
  );
}

export default function App() {
  const legend2 = useMemo(() => layoutLegend(tempSeries, 850, 445.5, 309, 14.7, 17.5), []);
  const legend3 = useMemo(() => layoutLegend(windSeries, 850, 445.5, 659.3, 14.7, 13.5), []);
  const frame = '#3f6ca3';
  return (
    <svg width={895} height={942} style={{ position: 'absolute', left: 0, top: 0, fontFamily: FONT }}>
      <rect width={895} height={942} fill="#fff" />

      {/* Panel 1 */}
      <rect x={8.5} y={-100} width={874} height={383} fill="#fff" stroke={frame} strokeWidth={1.5} />
      <Plot id="p1" left={80.5} right={875} top={-29.5} bottom={209.7} yDomain={[-250, 1000]} yTicks={radTicks} yTitle="W/m^2" series={radSeries} />
      <Navigator id="n1" left={80.5} right={875} top={255} bottom={280} points={radSeries[0].points} />

      {/* Panel 2 */}
      <rect x={8.5} y={285.5} width={874} height={348} fill="#fff" stroke={frame} strokeWidth={1.5} />
      <Legend items={legend2} />
      <Menu cy={307} />
      <Plot id="p2" left={72.5} right={875} top={350.7} bottom={560.7} yDomain={[-30, 0]} yTicks={tempTicks} yTitle="degC" series={tempSeries} />
      <Navigator id="n2" left={72.5} right={875} top={606.5} bottom={631} points={tempSeries[0].points} />

      {/* Panel 3 */}
      <rect x={8.5} y={636.5} width={874} height={400} fill="#fff" stroke={frame} strokeWidth={1.5} />
      <Legend items={legend3} />
      <Menu cy={657.7} />
      <Plot id="p3" left={60} right={875} top={671.7} bottom={911} yDomain={[0, 4]} yTicks={windTicks} yTitle="m/s" series={windSeries} />
    </svg>
  );
}
